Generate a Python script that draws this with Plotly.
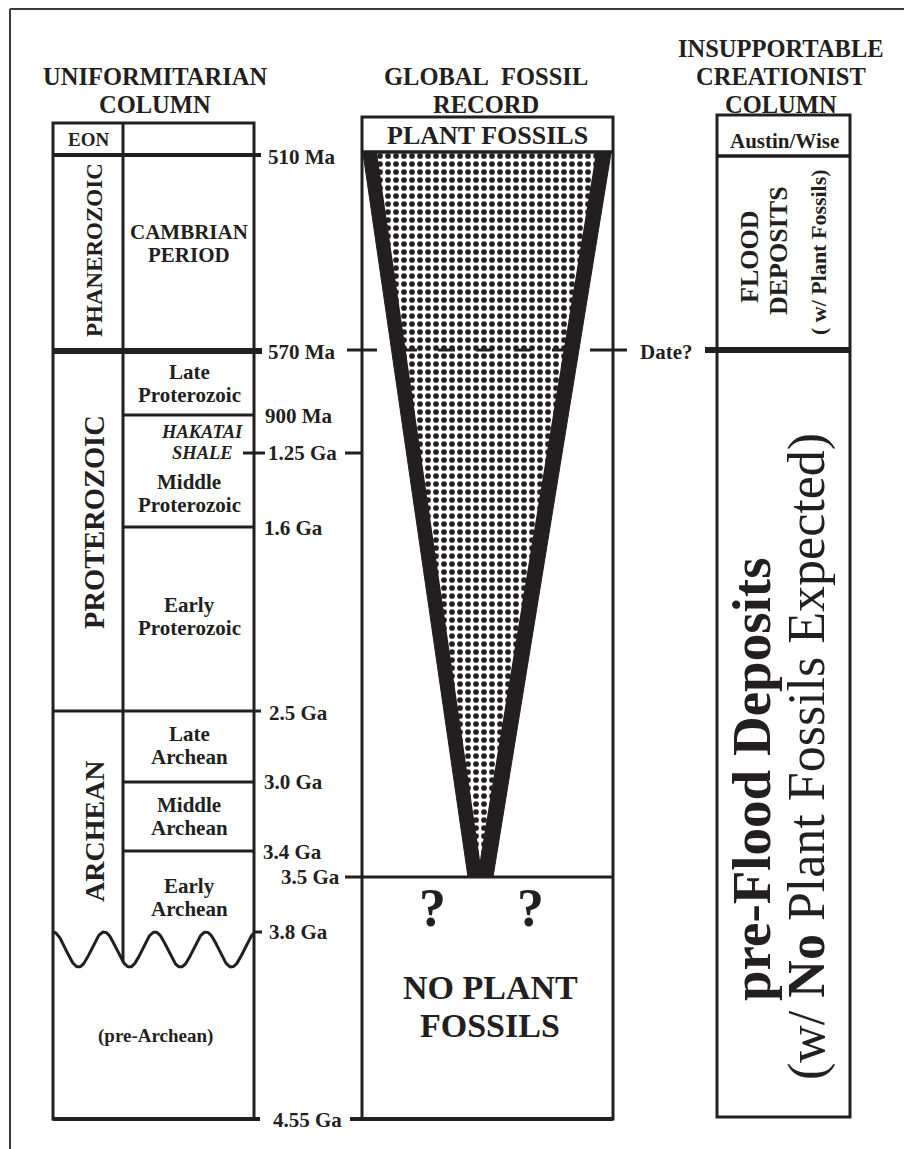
import numpy as np
import plotly.graph_objects as go

W, H = 912, 1149
OFF = 8                     # default page margin of the html body
INK = "#231f20"
FONT = "Liberation Serif"

# ---------------- data (schematic depth of each boundary in the diagram) ----------------
boundary_labels = ["510 Ma", "570 Ma", "900 Ma", "1.25 Ga", "1.6 Ga", "2.5 Ga",
                   "3.0 Ga", "3.4 Ga", "3.5 Ga", "3.8 Ga", "4.55 Ga"]
boundary_depth = [155, 351, 415, 453, 527, 711, 782, 851, 877, 932, 1119]

eon_names = ["PHANEROZOIC", "PROTEROZOIC", "ARCHEAN"]
eon_label_depth = [250, 522, 831]
eon_font = [23, 28.5, 28]

period_lines = [["CAMBRIAN", "PERIOD"], ["Late", "Proterozoic"], ["Middle", "Proterozoic"],
                ["Early", "Proterozoic"], ["Late", "Archean"], ["Middle", "Archean"],
                ["Early", "Archean"]]
period_label_depth = [243.5, 383.5, 493.5, 616.5, 745, 816.5, 897]

column_titles = [["UNIFORMITARIAN", "COLUMN"], ["GLOBAL\u00a0 FOSSIL", "RECORD"],
                 ["INSUPPORTABLE", "CREATIONIST", "COLUMN"]]

d = dict(zip(boundary_labels, boundary_depth))

# ---------------- geometry of the three columns ----------------
L0, LDIV, L1 = 53, 123, 254          # left column
M0, M1 = 362, 613                    # middle column
R0, R1 = 717, 850                    # right column

shapes = []
ann = []


def line(x0, y0, x1, y1, w=3, dash=None, color=INK):
    ln = dict(color=color, width=w)
    if dash:
        ln["dash"] = dash
    shapes.append(dict(type="line", xref="x", yref="y", x0=x0, y0=y0, x1=x1, y1=y1, line=ln))


def rect(x0, y0, x1, y1, w=3):
    shapes.append(dict(type="rect", xref="x", yref="y", x0=x0, y0=y0, x1=x1, y1=y1,
                       line=dict(color=INK, width=w), fillcolor="rgba(0,0,0,0)"))


def text(x, y, s, size, weight="bold", style="normal", angle=0, xanchor="center"):
    ann.append(dict(x=x, y=y, xref="x", yref="y", text=s, showarrow=False,
                    textangle=angle, xanchor=xanchor, yanchor="middle", borderpad=0,
                    font=dict(family=FONT, size=size, color=INK, weight=weight, style=style)))


fig = go.Figure()

# ---- fossil wedge (black border + dotted interior) ----
top = 153
wedge_x = [363, 611, 493, 468, 363]
wedge_y = [top, top, d["3.5 Ga"], d["3.5 Ga"], top]
fig.add_trace(go.Scatter(x=wedge_x, y=wedge_y, fill="toself", mode="lines",
                         fillcolor=INK, line=dict(color=INK, width=1), hoverinfo="skip"))
inner_x = [377, 596, 480, 377]
inner_y = [top, top, 860, top]
fig.add_trace(go.Scatter(x=inner_x, y=inner_y, fill="toself", mode="lines",
                         line=dict(color="rgba(0,0,0,0)", width=0), hoverinfo="skip",
                         fillcolor="white",
                         fillpattern=dict(shape=".", size=8, solidity=0.4,
                                          fgcolor=INK, bgcolor="white", fillmode="replace")))

# ---- unconformity wave ----
wx = np.linspace(L0, L1, 300)
wy = 949.5 - 17.5 * np.cos(2 * np.pi * (wx - L0) / 51.0)
fig.add_trace(go.Scatter(x=wx, y=wy, mode="lines", line=dict(color=INK, width=3),
                         hoverinfo="skip"))
div_end = float(np.interp(LDIV, wx, wy))

# ---- outer frame ----
line(10, 9, 10, H, w=2, color="#3a3a3a")
line(10, 9, 905, 9, w=2, color="#3a3a3a")
line(905, 9, 905, H, w=2, color="#3a3a3a")

# ---- left column ----
rect(L0, 123, L1, d["4.55 Ga"])
line(LDIV, 123, LDIV, div_end)
line(L0, d["510 Ma"], 261, d["510 Ma"], w=4)
line(L0, d["570 Ma"], 262, d["570 Ma"], w=6)
line(LDIV, d["900 Ma"], L1, d["900 Ma"])
line(243, d["1.25 Ga"], 265, d["1.25 Ga"])
line(345, d["1.25 Ga"], M0, d["1.25 Ga"])
line(LDIV, d["1.6 Ga"], L1, d["1.6 Ga"])
line(L0, d["2.5 Ga"], 261, d["2.5 Ga"])
line(LDIV, d["3.0 Ga"], L1, d["3.0 Ga"])
line(LDIV, d["3.4 Ga"], L1, d["3.4 Ga"])
line(L1, d["3.8 Ga"], 262, d["3.8 Ga"])
line(L0, d["4.55 Ga"], 260, d["4.55 Ga"], w=4)

# ---- middle column ----
rect(M0, 117, M1, d["4.55 Ga"])
line(M0, 152, M1, 152, w=3.5)
line(345, d["3.5 Ga"], M1, d["3.5 Ga"])
line(350, d["4.55 Ga"], M1, d["4.55 Ga"], w=4)
# 570 Ma correlation (dashed)
y570 = d["570 Ma"] - 1
line(347, y570, 377, y570)
line(400, y570, 570, y570, dash="17px,21px")
line(590, y570, 627, y570)

# ---- right column ----
rect(R0, 115, R1, 1117)
line(R0, 156, R1, 156, w=3.5)
line(705, y570, R1, y570, w=6)

# ---------------- text ----------------
# column titles
for t, cx in zip(column_titles, [155, 486, 781]):
    ys = [76.5, 104] if len(t) == 2 else [48.5, 76.5, 104]
    for s, yy in zip(t, ys):
        text(cx, yy, s, 24.5)

# left column
text(88, 139, "EON", 19)
for name, yy, fs in zip(eon_names, eon_label_depth, eon_font):
    text(94, yy, name, fs, angle=-90)
for lines_, yc in zip(period_lines, period_label_depth):
    text(189, yc - 11.5, lines_[0], 21)
    text(189, yc + 11.5, lines_[1], 21)
text(202, 432, "HAKATAI", 18.5, style="italic")
text(202, 453, "SHALE", 18.5, style="italic")
text(155, 1036, "(pre-Archean)", 19)

# boundary labels
label_x = {"510 Ma": 267, "570 Ma": 267, "900 Ma": 264, "1.25 Ga": 267, "1.6 Ga": 263,
           "2.5 Ga": 268, "3.0 Ga": 263, "3.4 Ga": 262, "3.8 Ga": 268}
label_dy = {"510 Ma": 2, "570 Ma": 1, "900 Ma": 1, "1.6 Ga": 1, "2.5 Ga": 2,
            "3.0 Ga": 0, "3.4 Ga": 1}
for lab, xx in label_x.items():
    text(xx, d[lab] + label_dy.get(lab, 0), lab, 21, xanchor="left")
text(341, d["3.5 Ga"], "3.5 Ga", 21, xanchor="right")
text(307, d["4.55 Ga"] + 1, "4.55 Ga", 21)
text(666, d["570 Ma"] + 1, "Date?", 21)

# middle column
text(487, 135, "PLANT FOSSILS", 26)
text(432, 908, "?", 54)
text(530, 908, "?", 54)
text(490, 987, "NO PLANT", 34)
text(490, 1025, "FOSSILS", 34)

# right column
text(784, 141, "Austin/Wise", 21)
text(749, 257, "FLOOD", 26, angle=-90)
text(778, 251, "DEPOSITS", 26, angle=-90)
text(818, 252, "( w/ Plant Fossils)", 22, angle=-90)
text(751, 779, "pre-Flood Deposits", 55, angle=-90)
text(807, 757, "(w/ <b>No</b> Plant Fossils Expected)", 52, weight="normal", angle=-90)

fig.update_layout(
    width=W - OFF, height=H - OFF, margin=dict(l=0, r=0, t=0, b=0),
    paper_bgcolor="white", plot_bgcolor="white", showlegend=False,
    xaxis=dict(range=[OFF, W], visible=False, fixedrange=True),
    yaxis=dict(range=[H, OFF], visible=False, fixedrange=True),
    shapes=shapes, annotations=ann,
)

fig.write_html("out.html", config={"displayModeBar": False})
